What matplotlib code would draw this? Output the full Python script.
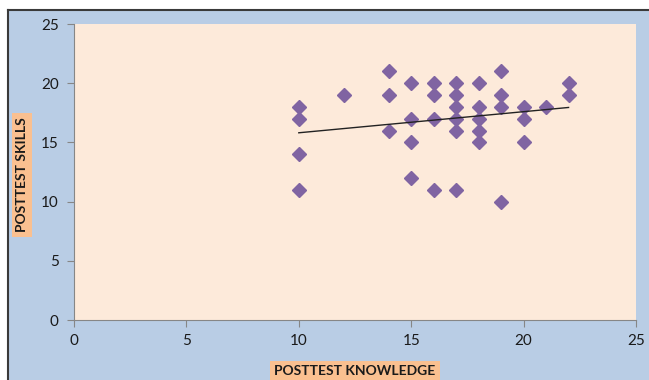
import numpy as np
import matplotlib
matplotlib.use('Agg')
from matplotlib import pyplot as plt
from matplotlib.patches import Rectangle
from matplotlib.lines import Line2D

# posttest knowledge (x) and posttest skills (y)
knowledge = [10, 10, 10, 10,
             12,
             14, 14, 14,
             15, 15, 15, 15,
             16, 16, 16, 16,
             17, 17, 17, 17, 17, 17,
             18, 18, 18, 18, 18,
             19, 19, 19, 19,
             20, 20, 20,
             21,
             22, 22]
skills = [18, 17, 14, 11,
          19,
          21, 19, 16,
          20, 17, 15, 12,
          20, 19, 17, 11,
          20, 19, 18, 17, 16, 11,
          20, 18, 17, 16, 15,
          21, 19, 18, 10,
          18, 17, 15,
          18,
          20, 19]
x_ticks = [0, 5, 10, 15, 20, 25]
y_ticks = [0, 5, 10, 15, 20, 25]

plt.rcParams['font.family'] = ['Lato', 'DejaVu Sans']

W, H = 649, 380
fig = plt.figure(figsize=(W / 100, H / 100), dpi=100, facecolor='white')

# chart area background with dark border on top and left
fig.patches.append(Rectangle((8 / W, 0), 1 - 8 / W, 1 - 10 / H, transform=fig.transFigure,
                             facecolor='#B9CDE5', edgecolor='none', zorder=-5))
fig.lines.append(Line2D([8 / W, 1], [1 - 10 / H, 1 - 10 / H], transform=fig.transFigure,
                        color='#3a3a3a', lw=1.5, zorder=-4))
fig.lines.append(Line2D([8 / W, 8 / W], [0, 1 - 10 / H], transform=fig.transFigure,
                        color='#3a3a3a', lw=1.5, zorder=-4))

ax = fig.add_axes([74 / W, 60 / H, 562 / W, 296 / H])
ax.set_facecolor('#FDEADA')

ax.plot(knowledge, skills, linestyle='none', marker='D', ms=7.2,
        color='#8064A2', markeredgecolor='#8064A2', zorder=3)

# linear trendline
k = np.array(knowledge)
slope, intercept = np.polyfit(k, np.array(skills), 1)
xs = np.array([k.min(), k.max()])
ax.plot(xs, slope * xs + intercept, color='#222222', lw=1, zorder=4)

ax.set_xlim(0, 25)
ax.set_ylim(0, 25)
ax.set_xticks(x_ticks)
ax.set_yticks(y_ticks)
ax.tick_params(axis='both', direction='out', length=5, color='#868686',
               labelsize=11, labelcolor='#1a1a1a')
ax.tick_params(axis='x', pad=5)
ax.tick_params(axis='y', pad=6)
for s in ['top', 'right']:
    ax.spines[s].set_visible(False)
for s in ['left', 'bottom']:
    ax.spines[s].set_color('#868686')

box = dict(facecolor='#FAC090', edgecolor='none', boxstyle='square,pad=0.3')
ax.set_xlabel('POSTTEST KNOWLEDGE', fontsize=10, fontweight='bold', color='#1a1a1a', bbox=box)
ax.set_ylabel('POSTTEST SKILLS', fontsize=10, fontweight='bold', color='#1a1a1a', bbox=box)
ax.xaxis.set_label_coords(0.5, -0.152)
ax.yaxis.set_label_coords(-0.082, 0.49)

fig.savefig('out.png', dpi=100, facecolor=fig.get_facecolor())
